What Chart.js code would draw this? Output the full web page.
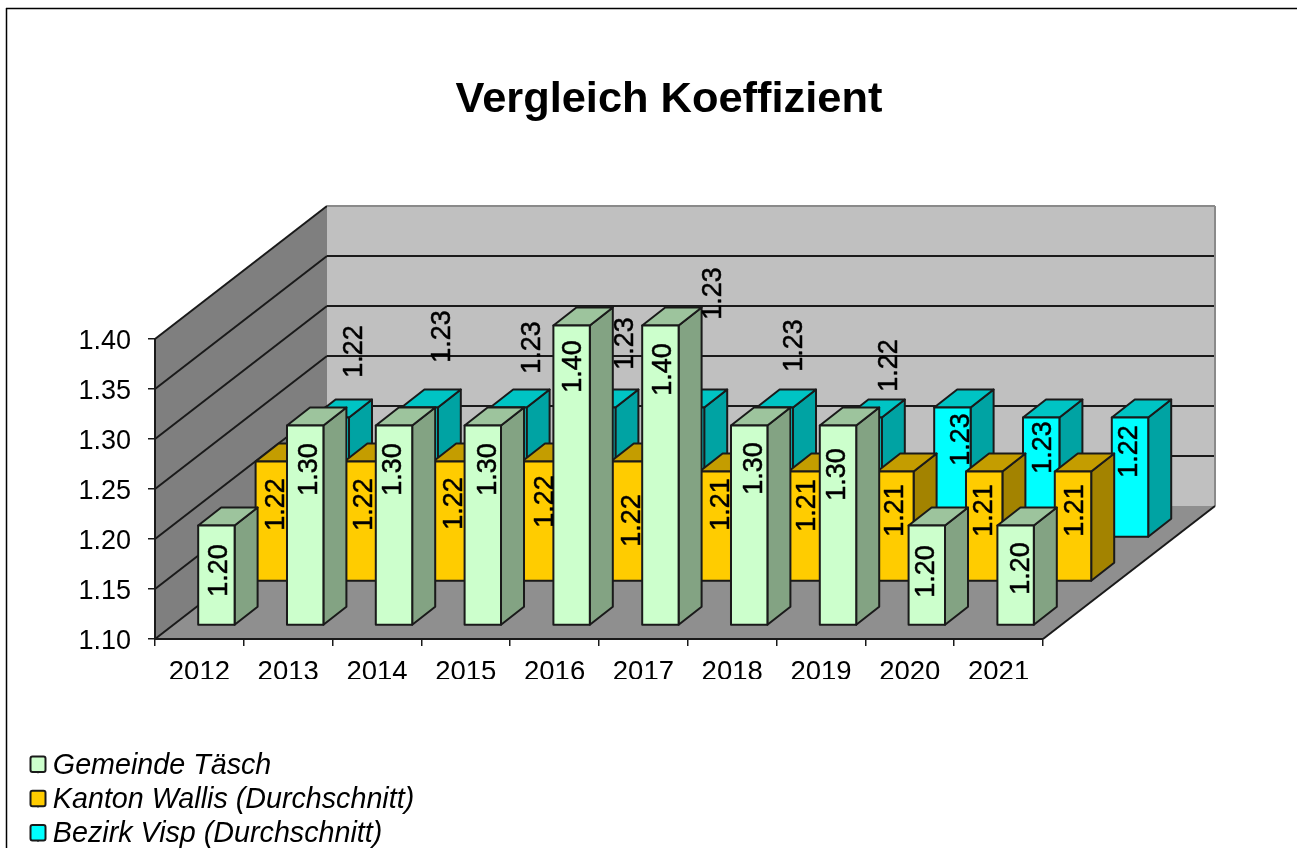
<!DOCTYPE html>
<html>
<head>
<meta charset="utf-8">
<title>Vergleich Koeffizient</title>
<script src="https://cdn.jsdelivr.net/npm/chart.js@4"></script>
<style>
  html, body { margin: 0; padding: 0; background: #fff; overflow: hidden; }
  canvas { display: block; }
</style>
</head>
<body>
<canvas id="chart" width="1297" height="848"></canvas>
<script>
const years = ["2012", "2013", "2014", "2015", "2016", "2017", "2018", "2019", "2020", "2021"];
const yTicks = [1.10, 1.15, 1.20, 1.25, 1.30, 1.35, 1.40];

const taesch = [1.20, 1.30, 1.30, 1.30, 1.40, 1.40, 1.30, 1.30, 1.20, 1.20];
const wallis = [1.22, 1.22, 1.22, 1.22, 1.22, 1.21, 1.21, 1.21, 1.21, 1.21];
const visp = [1.22, 1.23, 1.23, 1.23, 1.23, 1.23, 1.22, 1.23, 1.22, 1.22];

// printed labels, 2020 of Visp is drawn at 1.22 height but says 1.23
const taeschLabels = ["1.20", "1.30", "1.30", "1.30", "1.40", "1.40", "1.30", "1.30", "1.20", "1.20"];
const wallisLabels = ["1.22", "1.22", "1.22", "1.22", "1.22", "1.21", "1.21", "1.21", "1.21", "1.21"];
const vispLabels = ["1.22", "1.23", "1.23", "1.23", "1.23", "1.23", "1.22", "1.23", "1.23", "1.22"];

// labels were moved by hand in the original, shift from bar centre / bar top
const taeschShiftX = [1, 2, -2, 4, 0, 1, 3, -2, -2, 4];
const taeschShiftY = [45, 44, 44, 44, 41, 44, 43, 49, 46, 43];
const wallisShiftX = [1, 0, 1, 3, 2, 2, -1, -2, -2, 1];
const wallisShiftY = [43, 43, 42, 40, 59, 33, 34, 39, 39, 39];
const vispShiftX = [22, 21, 22, 26, 26, 18, 24, 7, 0, -2];
const vispShiftY = [-66, -71, -60, -64, -114, -62, -52, 32, 30, 34];

const FONT = "'Liberation Sans', Arial, sans-serif";
const WALL_DX = 172, WALL_DY = -133;   // depth of the whole floor
const BAR_DX = 23, BAR_DY = -18;       // depth of one bar
const LINE = "#1a1a1a";

// row offsets, index matches the datasets
const rows = [
  { dx: 17, dy: -13.5, labels: taeschLabels, sx: taeschShiftX, sy: taeschShiftY },
  { dx: 74.4, dy: -57.5, labels: wallisLabels, sx: wallisShiftX, sy: wallisShiftY },
  { dx: 131.4, dy: -101.5, labels: vispLabels, sx: vispShiftX, sy: vispShiftY }
];

const shade = (rgb, f) => `rgb(${rgb.map(c => Math.round(c * f)).join(",")})`;
const rowColors = [[204, 255, 204], [255, 204, 0], [0, 255, 255]];

function poly(ctx, pts, fill, stroke, width) {
  ctx.beginPath();
  pts.forEach((p, i) => i ? ctx.lineTo(p[0], p[1]) : ctx.moveTo(p[0], p[1]));
  ctx.closePath();
  if (fill) { ctx.fillStyle = fill; ctx.fill(); }
  if (stroke) { ctx.strokeStyle = stroke; ctx.lineWidth = width || 2; ctx.stroke(); }
}

function line(ctx, x1, y1, x2, y2, color, width) {
  ctx.beginPath();
  ctx.moveTo(x1, y1);
  ctx.lineTo(x2, y2);
  ctx.strokeStyle = color;
  ctx.lineWidth = width;
  ctx.stroke();
}

// frame, walls, floor and grid lines
const wallsPlugin = {
  id: "walls",
  beforeDraw(chart) {
    const { ctx, scales } = chart;
    const l = scales.x.left, r = scales.x.right;
    const y0 = scales.y.getPixelForValue(yTicks[0]);
    const yTop = scales.y.getPixelForValue(yTicks[yTicks.length - 1]);
    ctx.save();

    line(ctx, 6.5, 8, 6.5, 848, "#000", 1.5);
    line(ctx, 6, 8.5, 1297, 8.5, "#000", 1.5);

    poly(ctx, [[l + WALL_DX, yTop + WALL_DY], [r + WALL_DX, yTop + WALL_DY], [r + WALL_DX, y0 + WALL_DY], [l + WALL_DX, y0 + WALL_DY]], "#c0c0c0");
    poly(ctx, [[l, yTop], [l + WALL_DX, yTop + WALL_DY], [l + WALL_DX, y0 + WALL_DY], [l, y0]], "#7f7f7f");
    poly(ctx, [[l, y0], [r, y0], [r + WALL_DX, y0 + WALL_DY], [l + WALL_DX, y0 + WALL_DY]], "#8f8f8f");

    yTicks.forEach((v, i) => {
      const y = scales.y.getPixelForValue(v);
      line(ctx, l, y, l + WALL_DX, y + WALL_DY, LINE, 2);
      if (i > 0) {
        line(ctx, l + WALL_DX, y + WALL_DY, r + WALL_DX, y + WALL_DY, i === yTicks.length - 1 ? "#8a8a8a" : LINE, 2);
      }
    });
    line(ctx, r + WALL_DX, yTop + WALL_DY, r + WALL_DX, y0 + WALL_DY, "#8a8a8a", 2);
    line(ctx, r, y0, r + WALL_DX, y0 + WALL_DY, LINE, 2);
    ctx.restore();
  },
  // back row first so the front rows cover it, the elements give the positions
  beforeDatasetsDraw(chart) {
    const { ctx } = chart;
    ctx.save();
    ctx.lineJoin = "round";
    for (let d = rows.length - 1; d >= 0; d--) {
      const row = rows[d];
      const rgb = rowColors[d];
      chart.getDatasetMeta(d).data.forEach(el => {
        const x1 = el.x - el.width / 2 + row.dx;
        const x2 = el.x + el.width / 2 + row.dx;
        const top = el.y + row.dy;
        const bottom = el.base + row.dy;
        poly(ctx, [[x2, top], [x2 + BAR_DX, top + BAR_DY], [x2 + BAR_DX, bottom + BAR_DY], [x2, bottom]], shade(rgb, 0.64), LINE);
        poly(ctx, [[x1, top], [x1 + BAR_DX, top + BAR_DY], [x2 + BAR_DX, top + BAR_DY], [x2, top]], shade(rgb, 0.77), LINE);
        poly(ctx, [[x1, top], [x2, top], [x2, bottom], [x1, bottom]], shade(rgb, 1), LINE);
      });
    }
    // value labels go over everything
    ctx.fillStyle = "#000";
    ctx.strokeStyle = "#000";
    ctx.lineWidth = 0.5;
    ctx.font = "27px " + FONT;
    ctx.textAlign = "center";
    ctx.textBaseline = "middle";
    rows.forEach((row, d) => {
      chart.getDatasetMeta(d).data.forEach((el, i) => {
        ctx.save();
        ctx.translate(el.x + row.dx + row.sx[i] + 2, el.y + row.dy + row.sy[i]);
        ctx.rotate(-Math.PI / 2);
        ctx.fillText(row.labels[i], 0, 0);
        ctx.strokeText(row.labels[i], 0, 0);
        ctx.restore();
      });
    });
    ctx.restore();
    return false;
  },
  // place title and legend where the original has them
  afterLayout(chart) {
    const t = chart.titleBlock;
    t.left = 669 - 300;
    t.right = 669 + 300;
    const lg = chart.legend;
    lg.left = 32;
    lg.right = 600;
    lg.top = 746;
    lg.bottom = 900;
  },
  // legend swatches sit closer to the text than the built in box allows
  afterDraw(chart) {
    const { ctx } = chart;
    ctx.save();
    chart.data.datasets.forEach((ds, i) => {
      const y = 756.5 + i * 34.3;
      ctx.beginPath();
      ctx.roundRect(30.5, y, 15, 15.5, 2);
      ctx.fillStyle = ds.backgroundColor;
      ctx.fill();
      ctx.strokeStyle = LINE;
      ctx.lineWidth = 2;
      ctx.stroke();
    });
    ctx.restore();
  }
};

new Chart(document.getElementById("chart"), {
  type: "bar",
  plugins: [wallsPlugin],
  data: {
    labels: years,
    datasets: [
      { label: "Gemeinde Täsch", data: taesch, base: yTicks[0], backgroundColor: "#ccffcc", borderColor: LINE, borderWidth: 1 },
      { label: "Kanton Wallis (Durchschnitt)", data: wallis, base: yTicks[0], backgroundColor: "#ffcc00", borderColor: LINE, borderWidth: 1 },
      { label: "Bezirk Visp (Durchschnitt)", data: visp, base: yTicks[0], backgroundColor: "#00ffff", borderColor: LINE, borderWidth: 1 }
    ]
  },
  options: {
    responsive: false,
    animation: false,
    grouped: false,
    categoryPercentage: 1,
    barPercentage: 0.41,
    layout: { padding: { left: 0, right: 254, top: 0, bottom: 169 } },
    plugins: {
      tooltip: { enabled: false },
      title: {
        display: true,
        text: "Vergleich Koeffizient",
        color: "#000",
        font: { family: FONT, size: 43.4, weight: "bold", lineHeight: 1.2 },
        padding: { top: 74, bottom: 212.9 }
      },
      legend: {
        position: "chartArea",
        align: "start",
        labels: {
          color: "#000",
          font: { family: FONT, size: 28.7, style: "italic" },
          boxWidth: 1,
          boxHeight: 14,
          padding: 5.5
        }
      }
    },
    scales: {
      x: {
        afterFit: s => { s.height = 40; },
        border: { display: true, color: LINE, width: 2 },
        grid: { drawOnChartArea: false, drawTicks: true, tickLength: 7, color: LINE, lineWidth: 1.5 },
        ticks: { color: "#000", font: { family: FONT, size: 27.5 }, padding: 10, maxRotation: 0, autoSkip: false }
      },
      y: {
        min: yTicks[0],
        max: yTicks[yTicks.length - 1],
        afterFit: s => { s.width = 155; },
        afterBuildTicks: s => { s.ticks = yTicks.map(v => ({ value: v })); },
        border: { display: true, color: LINE, width: 2 },
        grid: { drawOnChartArea: false, drawTicks: true, tickLength: 7, color: LINE, lineWidth: 1.5 },
        ticks: { color: "#000", font: { family: FONT, size: 27 }, padding: 17, labelOffset: 3, callback: v => v.toFixed(2) }
      }
    }
  }
});
</script>
</body>
</html>
